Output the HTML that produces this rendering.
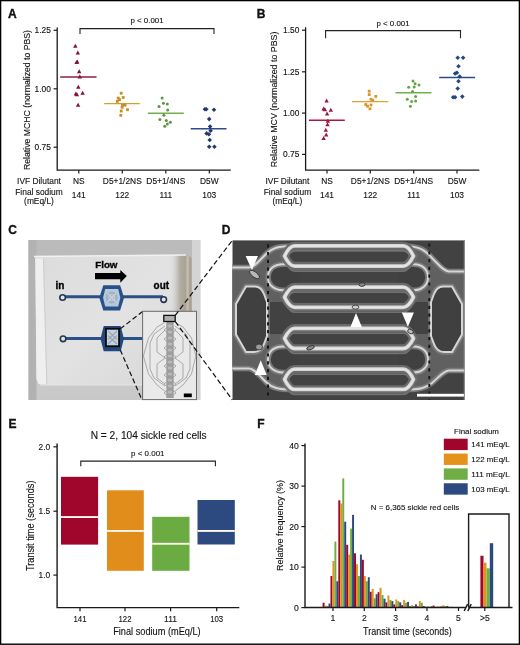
<!DOCTYPE html>
<html><head><meta charset="utf-8"><title>Figure</title>
<style>
html,body{margin:0;padding:0;background:#fff;}
body{width:520px;height:645px;overflow:hidden;}
svg{display:block;font-family:"Liberation Sans", sans-serif;will-change:transform;}
text{stroke:#111;stroke-width:0.12px;paint-order:stroke;}
text[font-weight=bold]{stroke-width:0.35px;}
</style></head><body>
<svg width="520" height="645" viewBox="0 0 520 645">
<rect x="0" y="0" width="520" height="645" fill="#fff"/>
<text x="8" y="17.8" font-size="12" text-anchor="start" font-weight="bold" fill="#111" >A</text>
<path d="M57.2,27.400000000000002V170.2H230.8" fill="none" stroke="#1a1a1a" stroke-width="1.3"/>
<path d="M53.6,30.3H57.2" stroke="#1a1a1a" stroke-width="1.2"/>
<text x="50.900000000000006" y="33.3" font-size="8.4" text-anchor="end" font-weight="normal" fill="#111" >1.25</text>
<path d="M53.6,88.8H57.2" stroke="#1a1a1a" stroke-width="1.2"/>
<text x="50.900000000000006" y="91.8" font-size="8.4" text-anchor="end" font-weight="normal" fill="#111" >1.00</text>
<path d="M53.6,147.2H57.2" stroke="#1a1a1a" stroke-width="1.2"/>
<text x="50.900000000000006" y="150.2" font-size="8.4" text-anchor="end" font-weight="normal" fill="#111" >0.75</text>
<path d="M78.8,170.2V173.6" stroke="#1a1a1a" stroke-width="1.2"/>
<path d="M122.3,170.2V173.6" stroke="#1a1a1a" stroke-width="1.2"/>
<path d="M165.8,170.2V173.6" stroke="#1a1a1a" stroke-width="1.2"/>
<path d="M209.3,170.2V173.6" stroke="#1a1a1a" stroke-width="1.2"/>
<text transform="translate(30.2,100) rotate(-90)" x="0" y="0" font-size="8.7" text-anchor="middle" fill="#111">Relative MCHC (normalized to PBS)</text>
<path d="M80,34V28.6H214V34" fill="none" stroke="#222" stroke-width="1.1"/>
<text x="147.0" y="23.4" font-size="7.9" text-anchor="middle" font-weight="normal" fill="#111" >p &lt; 0.001</text>
<text x="78.8" y="184.3" font-size="8.4" text-anchor="middle" font-weight="normal" fill="#111" >NS</text>
<text x="78.8" y="197.9" font-size="8.4" text-anchor="middle" font-weight="normal" fill="#111" >141</text>
<text x="122.3" y="184.3" font-size="8.4" text-anchor="middle" font-weight="normal" fill="#111" >D5+1/2NS</text>
<text x="122.3" y="197.9" font-size="8.4" text-anchor="middle" font-weight="normal" fill="#111" >122</text>
<text x="165.8" y="184.3" font-size="8.4" text-anchor="middle" font-weight="normal" fill="#111" >D5+1/4NS</text>
<text x="165.8" y="197.9" font-size="8.4" text-anchor="middle" font-weight="normal" fill="#111" >111</text>
<text x="209.3" y="184.3" font-size="8.4" text-anchor="middle" font-weight="normal" fill="#111" >D5W</text>
<text x="209.3" y="197.9" font-size="8.4" text-anchor="middle" font-weight="normal" fill="#111" >103</text>
<text x="39" y="184.3" font-size="8.4" text-anchor="middle" font-weight="normal" fill="#111" >IVF Dilutant</text>
<text x="39" y="194.6" font-size="8.4" text-anchor="middle" font-weight="normal" fill="#111" >Final sodium</text>
<text x="39" y="204.2" font-size="8.4" text-anchor="middle" font-weight="normal" fill="#111" >(mEq/L)</text>
<path d="M60.2,76.9H96.5" stroke="#931a40" stroke-width="1.45"/>
<path d="M73.10,47.78L77.50,47.78L75.30,43.82Z" fill="#801232"/>
<path d="M75.60,54.48L80.00,54.48L77.80,50.52Z" fill="#801232"/>
<path d="M75.00,63.48L79.40,63.48L77.20,59.52Z" fill="#801232"/>
<path d="M74.40,63.98L78.80,63.98L76.60,60.02Z" fill="#801232"/>
<path d="M77.00,73.18L81.40,73.18L79.20,69.22Z" fill="#801232"/>
<path d="M77.60,78.48L82.00,78.48L79.80,74.52Z" fill="#801232"/>
<path d="M76.10,88.78L80.50,88.78L78.30,84.82Z" fill="#801232"/>
<path d="M73.70,95.48L78.10,95.48L75.90,91.52Z" fill="#801232"/>
<path d="M74.70,96.18L79.10,96.18L76.90,92.22Z" fill="#801232"/>
<path d="M80.40,94.68L84.80,94.68L82.60,90.72Z" fill="#801232"/>
<path d="M75.90,106.78L80.30,106.78L78.10,102.82Z" fill="#801232"/>
<path d="M104.2,103.6H139.8" stroke="#d1a028" stroke-width="1.45"/>
<rect x="119.80" y="91.80" width="2.8" height="2.8" fill="#c88c22"/>
<rect x="121.80" y="96.10" width="2.8" height="2.8" fill="#c88c22"/>
<rect x="116.80" y="96.70" width="2.8" height="2.8" fill="#c88c22"/>
<rect x="118.10" y="98.30" width="2.8" height="2.8" fill="#c88c22"/>
<rect x="115.90" y="100.00" width="2.8" height="2.8" fill="#c88c22"/>
<rect x="121.10" y="103.90" width="2.8" height="2.8" fill="#c88c22"/>
<rect x="123.70" y="103.70" width="2.8" height="2.8" fill="#c88c22"/>
<rect x="120.70" y="105.90" width="2.8" height="2.8" fill="#c88c22"/>
<rect x="126.10" y="108.30" width="2.8" height="2.8" fill="#c88c22"/>
<rect x="119.80" y="109.60" width="2.8" height="2.8" fill="#c88c22"/>
<rect x="119.40" y="113.90" width="2.8" height="2.8" fill="#c88c22"/>
<path d="M147.8,113.2H183.8" stroke="#70b04a" stroke-width="1.45"/>
<circle cx="162.1" cy="98" r="1.5" fill="#5e9640"/>
<circle cx="163.4" cy="103.2" r="1.5" fill="#5e9640"/>
<circle cx="167.3" cy="104" r="1.5" fill="#5e9640"/>
<circle cx="159" cy="106.6" r="1.5" fill="#5e9640"/>
<circle cx="167.7" cy="110.1" r="1.5" fill="#5e9640"/>
<circle cx="163.9" cy="115.3" r="1.5" fill="#5e9640"/>
<circle cx="159.9" cy="119.6" r="1.5" fill="#5e9640"/>
<circle cx="166.3" cy="120.5" r="1.5" fill="#5e9640"/>
<circle cx="170.3" cy="122.2" r="1.5" fill="#5e9640"/>
<circle cx="167.3" cy="123.9" r="1.5" fill="#5e9640"/>
<circle cx="164.7" cy="126.2" r="1.5" fill="#5e9640"/>
<path d="M190.7,128.8H226.5" stroke="#2d4c84" stroke-width="1.45"/>
<path d="M204.90,106.90L207.20,109.20L204.90,111.50L202.60,109.20Z" fill="#203a6c"/>
<path d="M206.30,106.90L208.60,109.20L206.30,111.50L204.00,109.20Z" fill="#203a6c"/>
<path d="M214.00,107.40L216.30,109.70L214.00,112.00L211.70,109.70Z" fill="#203a6c"/>
<path d="M209.20,116.80L211.50,119.10L209.20,121.40L206.90,119.10Z" fill="#203a6c"/>
<path d="M210.10,124.20L212.40,126.50L210.10,128.80L207.80,126.50Z" fill="#203a6c"/>
<path d="M210.60,128.50L212.90,130.80L210.60,133.10L208.30,130.80Z" fill="#203a6c"/>
<path d="M206.60,131.10L208.90,133.40L206.60,135.70L204.30,133.40Z" fill="#203a6c"/>
<path d="M208.90,132.00L211.20,134.30L208.90,136.60L206.60,134.30Z" fill="#203a6c"/>
<path d="M209.70,137.70L212.00,140.00L209.70,142.30L207.40,140.00Z" fill="#203a6c"/>
<path d="M209.20,144.50L211.50,146.80L209.20,149.10L206.90,146.80Z" fill="#203a6c"/>
<path d="M214.40,144.50L216.70,146.80L214.40,149.10L212.10,146.80Z" fill="#203a6c"/>
<text x="256.8" y="17.8" font-size="12" text-anchor="start" font-weight="bold" fill="#111" >B</text>
<path d="M305.6,27.3V170.2H479.3" fill="none" stroke="#1a1a1a" stroke-width="1.3"/>
<path d="M302.0,30.2H305.6" stroke="#1a1a1a" stroke-width="1.2"/>
<text x="299.3" y="33.2" font-size="8.4" text-anchor="end" font-weight="normal" fill="#111" >1.50</text>
<path d="M302.0,71.8H305.6" stroke="#1a1a1a" stroke-width="1.2"/>
<text x="299.3" y="74.8" font-size="8.4" text-anchor="end" font-weight="normal" fill="#111" >1.25</text>
<path d="M302.0,113.1H305.6" stroke="#1a1a1a" stroke-width="1.2"/>
<text x="299.3" y="116.1" font-size="8.4" text-anchor="end" font-weight="normal" fill="#111" >1.00</text>
<path d="M302.0,154.4H305.6" stroke="#1a1a1a" stroke-width="1.2"/>
<text x="299.3" y="157.4" font-size="8.4" text-anchor="end" font-weight="normal" fill="#111" >0.75</text>
<path d="M327,170.2V173.6" stroke="#1a1a1a" stroke-width="1.2"/>
<path d="M370.3,170.2V173.6" stroke="#1a1a1a" stroke-width="1.2"/>
<path d="M413.7,170.2V173.6" stroke="#1a1a1a" stroke-width="1.2"/>
<path d="M457,170.2V173.6" stroke="#1a1a1a" stroke-width="1.2"/>
<text transform="translate(276.6,99.4) rotate(-90)" x="0" y="0" font-size="8.85" text-anchor="middle" fill="#111">Relative MCV (normalized to PBS)</text>
<path d="M325.6,38.3V30.6H460.5V38.3" fill="none" stroke="#222" stroke-width="1.1"/>
<text x="393.05" y="25.6" font-size="7.9" text-anchor="middle" font-weight="normal" fill="#111" >p &lt; 0.001</text>
<text x="327" y="184.3" font-size="8.4" text-anchor="middle" font-weight="normal" fill="#111" >NS</text>
<text x="327" y="197.9" font-size="8.4" text-anchor="middle" font-weight="normal" fill="#111" >141</text>
<text x="370.3" y="184.3" font-size="8.4" text-anchor="middle" font-weight="normal" fill="#111" >D5+1/2NS</text>
<text x="370.3" y="197.9" font-size="8.4" text-anchor="middle" font-weight="normal" fill="#111" >122</text>
<text x="413.7" y="184.3" font-size="8.4" text-anchor="middle" font-weight="normal" fill="#111" >D5+1/4NS</text>
<text x="413.7" y="197.9" font-size="8.4" text-anchor="middle" font-weight="normal" fill="#111" >111</text>
<text x="457" y="184.3" font-size="8.4" text-anchor="middle" font-weight="normal" fill="#111" >D5W</text>
<text x="457" y="197.9" font-size="8.4" text-anchor="middle" font-weight="normal" fill="#111" >103</text>
<text x="287.4" y="184.3" font-size="8.4" text-anchor="middle" font-weight="normal" fill="#111" >IVF Dilutant</text>
<text x="287.4" y="194.6" font-size="8.4" text-anchor="middle" font-weight="normal" fill="#111" >Final sodium</text>
<text x="287.4" y="204.2" font-size="8.4" text-anchor="middle" font-weight="normal" fill="#111" >(mEq/L)</text>
<path d="M308.9,120.3H344.8" stroke="#a81a3e" stroke-width="1.45"/>
<path d="M324.40,102.38L328.80,102.38L326.60,98.42Z" fill="#981840"/>
<path d="M321.40,110.58L325.80,110.58L323.60,106.62Z" fill="#981840"/>
<path d="M322.70,111.18L327.10,111.18L324.90,107.22Z" fill="#981840"/>
<path d="M328.60,111.68L333.00,111.68L330.80,107.72Z" fill="#981840"/>
<path d="M324.90,115.48L329.30,115.48L327.10,111.52Z" fill="#981840"/>
<path d="M325.70,122.68L330.10,122.68L327.90,118.72Z" fill="#981840"/>
<path d="M325.30,126.18L329.70,126.18L327.50,122.22Z" fill="#981840"/>
<path d="M323.60,131.78L328.00,131.78L325.80,127.82Z" fill="#981840"/>
<path d="M324.00,136.48L328.40,136.48L326.20,132.52Z" fill="#981840"/>
<path d="M321.40,139.98L325.80,139.98L323.60,136.02Z" fill="#981840"/>
<path d="M351.9,101.6H388.3" stroke="#dca232" stroke-width="1.45"/>
<rect x="367.80" y="89.80" width="2.8" height="2.8" fill="#d8952a"/>
<rect x="367.80" y="93.20" width="2.8" height="2.8" fill="#d8952a"/>
<rect x="374.40" y="95.00" width="2.8" height="2.8" fill="#d8952a"/>
<rect x="369.60" y="97.90" width="2.8" height="2.8" fill="#d8952a"/>
<rect x="371.30" y="98.80" width="2.8" height="2.8" fill="#d8952a"/>
<rect x="364.40" y="103.10" width="2.8" height="2.8" fill="#d8952a"/>
<rect x="369.60" y="103.60" width="2.8" height="2.8" fill="#d8952a"/>
<rect x="366.10" y="104.80" width="2.8" height="2.8" fill="#d8952a"/>
<rect x="368.60" y="107.40" width="2.8" height="2.8" fill="#d8952a"/>
<path d="M395.5,92.7H431.5" stroke="#74b04c" stroke-width="1.45"/>
<circle cx="413" cy="81.1" r="1.5" fill="#64a444"/>
<circle cx="415.1" cy="83.7" r="1.5" fill="#64a444"/>
<circle cx="419" cy="85.1" r="1.5" fill="#64a444"/>
<circle cx="414.2" cy="86.9" r="1.5" fill="#64a444"/>
<circle cx="408.7" cy="87.2" r="1.5" fill="#64a444"/>
<circle cx="412.5" cy="91.5" r="1.5" fill="#64a444"/>
<circle cx="415.6" cy="96.4" r="1.5" fill="#64a444"/>
<circle cx="407.3" cy="99.3" r="1.5" fill="#64a444"/>
<circle cx="411.6" cy="101.6" r="1.5" fill="#64a444"/>
<circle cx="415.6" cy="101" r="1.5" fill="#64a444"/>
<circle cx="410.4" cy="106.2" r="1.5" fill="#64a444"/>
<path d="M439.2,77.4H475.1" stroke="#2d4e8a" stroke-width="1.45"/>
<path d="M457.70,55.40L460.00,57.70L457.70,60.00L455.40,57.70Z" fill="#25467e"/>
<path d="M463.10,55.40L465.40,57.70L463.10,60.00L460.80,57.70Z" fill="#25467e"/>
<path d="M458.50,63.90L460.80,66.20L458.50,68.50L456.20,66.20Z" fill="#25467e"/>
<path d="M455.10,71.20L457.40,73.50L455.10,75.80L452.80,73.50Z" fill="#25467e"/>
<path d="M456.90,70.50L459.20,72.80L456.90,75.10L454.60,72.80Z" fill="#25467e"/>
<path d="M459.70,74.20L462.00,76.50L459.70,78.80L457.40,76.50Z" fill="#25467e"/>
<path d="M458.50,78.90L460.80,81.20L458.50,83.50L456.20,81.20Z" fill="#25467e"/>
<path d="M457.70,86.20L460.00,88.50L457.70,90.80L455.40,88.50Z" fill="#25467e"/>
<path d="M453.10,94.90L455.40,97.20L453.10,99.50L450.80,97.20Z" fill="#25467e"/>
<path d="M455.10,94.90L457.40,97.20L455.10,99.50L452.80,97.20Z" fill="#25467e"/>
<path d="M462.30,94.30L464.60,96.60L462.30,98.90L460.00,96.60Z" fill="#25467e"/>
<text x="8.2" y="233.8" font-size="12" text-anchor="start" font-weight="bold" fill="#111" >C</text>
<defs><linearGradient id="cbg" x1="0" y1="0" x2="0" y2="1"><stop offset="0" stop-color="#bababa"/><stop offset="0.9" stop-color="#cacaca"/><stop offset="1" stop-color="#c8c8c8"/></linearGradient><linearGradient id="chip" x1="0" y1="0" x2="1" y2="1"><stop offset="0" stop-color="#dcdcdc"/><stop offset="0.5" stop-color="#e2e2e2"/><stop offset="1" stop-color="#d6d6d6"/></linearGradient><linearGradient id="beige" x1="0" y1="0" x2="1" y2="0"><stop offset="0" stop-color="#d6d6d6" stop-opacity="0"/><stop offset="0.45" stop-color="#b2ada2"/><stop offset="0.7" stop-color="#a9a294"/><stop offset="0.8" stop-color="#c6c0b3"/><stop offset="0.92" stop-color="#a49d8f"/><stop offset="1" stop-color="#b8b2a6"/></linearGradient></defs>
<rect x="28.5" y="240" width="171.8" height="160" fill="url(#cbg)"/>
<rect x="28.5" y="240" width="8" height="160" fill="#b2b2b2"/>
<rect x="192" y="240" width="8.3" height="160" fill="#d4d4d4"/>
<path d="M35,257L186,255L191.5,258V384.5L46,384.5L36.5,379Z" fill="url(#chip)"/>
<path d="M170,255.3L187,254.5L192,258V320H170Z" fill="url(#beige)"/>
<path d="M35.5,258.5L43,258.5L46.5,384H38.5L36.5,379Z" fill="#efefef"/><path d="M43.5,259L46.8,384" stroke="#c9c9c9" stroke-width="0.9"/>
<path d="M34,256.5L186,255" stroke="#f2f2f2" stroke-width="1.5"/>
<path d="M40,384.8H191" stroke="#e6e6e6" stroke-width="1.3"/>
<path d="M95,273H120.3V270L126.8,276.1L120.3,282.7V279.2H95Z" fill="#000"/>
<text x="95.2" y="268.2" font-size="9.8" font-weight="bold" fill="#000" textLength="22.3" lengthAdjust="spacingAndGlyphs">Flow</text>
<text x="55.6" y="289" font-size="10" font-weight="bold" fill="#000">in</text>
<text x="153.6" y="289.4" font-size="10" font-weight="bold" fill="#000" textLength="15.4" lengthAdjust="spacingAndGlyphs">out</text>
<path d="M63,296.8H163" stroke="#2a5088" stroke-width="3"/>
<path d="M63.5,338.6H142.6" stroke="#2a5088" stroke-width="3"/>
<polygon points="99.3,297.79999999999995 103.3,285.2 120.1,285.2 124.1,297.79999999999995 120.1,310.4 103.3,310.4" fill="#2a5088"/>
<polygon points="103.1,297.79999999999995 105.2,289.0 118.19999999999999,289.0 120.3,297.79999999999995 118.19999999999999,306.59999999999997 105.2,306.59999999999997" fill="#b4c8de"/>
<circle cx="111.7" cy="297.6" r="6" fill="#a3b2c2"/>
<path d="M107.5,293.4L115.9,301.8M107.5,301.8L115.9,293.4" stroke="#c9d4df" stroke-width="1.3"/>
<circle cx="111.7" cy="297.6" r="3" fill="none" stroke="#c9d4df" stroke-width="1"/>
<polygon points="100.5,338.70000000000005 103.7,326.1 120.7,326.1 123.9,338.70000000000005 120.7,351.3 103.7,351.3" fill="#22487e"/>
<rect x="106.6" y="329.4" width="11.8" height="16.2" fill="#c6d1dc"/>
<path d="M108,331L117,339.5M108,339.5L117,331M108,335.5L117,344M108,344L117,335.5" stroke="#97a6b6" stroke-width="1.2"/>
<rect x="105.9" y="328.7" width="13.2" height="17.6" fill="none" stroke="#0a0a0a" stroke-width="1.7"/>
<circle cx="62.6" cy="297.5" r="2.8" fill="#dfe5ea" stroke="#26364d" stroke-width="1.6"/>
<circle cx="163.7" cy="299.6" r="2.8" fill="#dfe5ea" stroke="#26364d" stroke-width="1.6"/>
<circle cx="63.1" cy="338.8" r="2.8" fill="#dfe5ea" stroke="#26364d" stroke-width="1.6"/>
<path d="M120.3,328.9L142.6,311.5M120.3,350L141.6,399" stroke="#111" stroke-width="1.2" stroke-dasharray="5,2.8" fill="none"/>
<rect x="142.6" y="311.3" width="53.9" height="88.3" fill="#e9e9e9" stroke="#6a6a6a" stroke-width="1"/>
<g fill="none" stroke="#a9a9a9" stroke-width="1.0"><polyline points="164,323 157,327 148.5,338 143.4,356 148.5,374 157,385 166,392"/><polyline points="176,323 183,327 191.5,338 195.8,356 191.5,374 183,385 174,392"/><polyline points="165,326 154,334 150,343 150,356 150,369 154,378 165,386"/><polyline points="175,326 186,334 190,343 190,356 190,369 186,378 175,386"/><polyline points="165,330 157,338 157,352 165,358 157,364 157,378 165,384"/><polyline points="175,330 183,338 183,352 175,358 183,364 183,378 175,384"/></g>
<g fill="none" stroke="#a0a0a0" stroke-width="0.9">
<path d="M170,325L176,330L170,335L164,330Z"/>
<path d="M170,334L176,339L170,344L164,339Z"/>
<path d="M170,343L176,348L170,353L164,348Z"/>
<path d="M170,352L176,357L170,362L164,357Z"/>
<path d="M170,361L176,366L170,371L164,366Z"/>
<path d="M170,370L176,375L170,380L164,375Z"/>
<path d="M170,379L176,384L170,389L164,384Z"/>
<path d="M170,388L176,393L170,398L164,393Z"/>
</g>
<rect x="166.3" y="322" width="7.4" height="76" fill="#9d9d9d"/>
<g fill="#b9b9b9">
<ellipse cx="170" cy="326" rx="2.4" ry="1.5"/>
<ellipse cx="170" cy="332" rx="2.4" ry="1.5"/>
<ellipse cx="170" cy="338" rx="2.4" ry="1.5"/>
<ellipse cx="170" cy="344" rx="2.4" ry="1.5"/>
<ellipse cx="170" cy="350" rx="2.4" ry="1.5"/>
<ellipse cx="170" cy="356" rx="2.4" ry="1.5"/>
<ellipse cx="170" cy="362" rx="2.4" ry="1.5"/>
<ellipse cx="170" cy="368" rx="2.4" ry="1.5"/>
<ellipse cx="170" cy="374" rx="2.4" ry="1.5"/>
<ellipse cx="170" cy="380" rx="2.4" ry="1.5"/>
<ellipse cx="170" cy="386" rx="2.4" ry="1.5"/>
<ellipse cx="170" cy="392" rx="2.4" ry="1.5"/>
</g>
<rect x="163.8" y="315.4" width="11.4" height="6.1" fill="#b0b0b0" stroke="#111" stroke-width="1.3"/>
<rect x="183.8" y="393.5" width="8" height="3.7" fill="#000"/>
<path d="M175.2,315.4L232.3,240.4M175.2,321.5L232.3,399.8" stroke="#111" stroke-width="1.2" stroke-dasharray="5.2,2.8" fill="none"/>
<text x="221.8" y="233.6" font-size="12" text-anchor="start" font-weight="bold" fill="#111" >D</text>
<clipPath id="dclip"><rect x="232.3" y="240.2" width="232.7" height="159.8"/></clipPath>
<filter id="dblur" x="-5%" y="-5%" width="110%" height="110%"><feGaussianBlur stdDeviation="0.6"/></filter>
<g clip-path="url(#dclip)">
<rect x="232.3" y="240.2" width="232.7" height="159.8" fill="#424242"/>
<g filter="url(#dblur)">
<path d="M232,267.5H249C254,267.5 258,262 266,254C272,248 278,245.9 290,245.9V302H268V334H290V390C278,389.6 272,388 266,382C258,374 254,368.5 249,368.5H232Z" fill="#616161"/>
<path d="M465,271.5H449C444,271.5 440,266 432,258C426,251 420,245.9 408,245.9V302H431V334H408V390C420,389.6 426,388 432,383C440,376 444,370.5 449,370.5H465Z" fill="#616161"/>
<path d="M232,267.5H249C254,267.5 258,262 266,254C272,248 278,245.9 294,245.9" fill="none" stroke="#7a7a7a" stroke-width="5.5" stroke-linejoin="round" stroke-linecap="round" />
<path d="M232,267.5H249C254,267.5 258,262 266,254C272,248 278,245.9 294,245.9" fill="none" stroke="#d6d6d6" stroke-width="2.0" stroke-linejoin="round" stroke-linecap="round" />
<path d="M232,368.5H249C254,368.5 258,374 266,382C272,388 278,389.6 294,389.6" fill="none" stroke="#7a7a7a" stroke-width="5.5" stroke-linejoin="round" stroke-linecap="round" />
<path d="M232,368.5H249C254,368.5 258,374 266,382C272,388 278,389.6 294,389.6" fill="none" stroke="#d6d6d6" stroke-width="2.0" stroke-linejoin="round" stroke-linecap="round" />
<path d="M465,271.5H449C444,271.5 440,266 432,258C426,251 420,245.9 404,245.9" fill="none" stroke="#7a7a7a" stroke-width="5.5" stroke-linejoin="round" stroke-linecap="round" />
<path d="M465,271.5H449C444,271.5 440,266 432,258C426,251 420,245.9 404,245.9" fill="none" stroke="#d6d6d6" stroke-width="2.0" stroke-linejoin="round" stroke-linecap="round" />
<path d="M465,370.5H449C444,370.5 440,376 432,383C426,388 420,389.6 404,389.6" fill="none" stroke="#7a7a7a" stroke-width="5.5" stroke-linejoin="round" stroke-linecap="round" />
<path d="M465,370.5H449C444,370.5 440,376 432,383C426,388 420,389.6 404,389.6" fill="none" stroke="#d6d6d6" stroke-width="2.0" stroke-linejoin="round" stroke-linecap="round" />
<path d="M300,264.2H283C273,264.2 268,270.2 268,277.2C268,284.2 273,290.2 283,290.2H300Z" fill="#404040"/>
<path d="M300,264.2H283C273,264.2 268,270.2 268,277.2C268,284.2 273,290.2 283,290.2H300" fill="none" stroke="#7a7a7a" stroke-width="5.5" stroke-linejoin="round" stroke-linecap="round" />
<path d="M300,264.2H283C273,264.2 268,270.2 268,277.2C268,284.2 273,290.2 283,290.2H300" fill="none" stroke="#d6d6d6" stroke-width="2.0" stroke-linejoin="round" stroke-linecap="round" />
<path d="M398,264.2H414C423,264.2 428,270.2 428,277.2C428,284.2 423,290.2 414,290.2H398Z" fill="#404040"/>
<path d="M398,264.2H414C423,264.2 428,270.2 428,277.2C428,284.2 423,290.2 414,290.2H398" fill="none" stroke="#7a7a7a" stroke-width="5.5" stroke-linejoin="round" stroke-linecap="round" />
<path d="M398,264.2H414C423,264.2 428,270.2 428,277.2C428,284.2 423,290.2 414,290.2H398" fill="none" stroke="#d6d6d6" stroke-width="2.0" stroke-linejoin="round" stroke-linecap="round" />
<path d="M300,346.4H283C273,346.4 268,352.4 268,359.4C268,366.4 273,372.4 283,372.4H300Z" fill="#404040"/>
<path d="M300,346.4H283C273,346.4 268,352.4 268,359.4C268,366.4 273,372.4 283,372.4H300" fill="none" stroke="#7a7a7a" stroke-width="5.5" stroke-linejoin="round" stroke-linecap="round" />
<path d="M300,346.4H283C273,346.4 268,352.4 268,359.4C268,366.4 273,372.4 283,372.4H300" fill="none" stroke="#d6d6d6" stroke-width="2.0" stroke-linejoin="round" stroke-linecap="round" />
<path d="M398,346.4H414C423,346.4 428,352.4 428,359.4C428,366.4 423,372.4 414,372.4H398Z" fill="#404040"/>
<path d="M398,346.4H414C423,346.4 428,352.4 428,359.4C428,366.4 423,372.4 414,372.4H398" fill="none" stroke="#7a7a7a" stroke-width="5.5" stroke-linejoin="round" stroke-linecap="round" />
<path d="M398,346.4H414C423,346.4 428,352.4 428,359.4C428,366.4 423,372.4 414,372.4H398" fill="none" stroke="#d6d6d6" stroke-width="2.0" stroke-linejoin="round" stroke-linecap="round" />
<path d="M246,286.5H255C259,286.5 262,289 264,294L267,302V336L264,344C262,349 258,352 254,352H246L236,334.5V304Z" fill="none" stroke="#7a7a7a" stroke-width="5.5" stroke-linejoin="round" stroke-linecap="round" />
<path d="M246,286.5H255C259,286.5 262,289 264,294L267,302V336L264,344C262,349 258,352 254,352H246L236,334.5V304Z" fill="#404040" stroke="#d6d6d6" stroke-width="2.0" stroke-linejoin="round" stroke-linecap="round" />
<path d="M452,286.5H443C439,286.5 436,289 434,294L431,302V336L434,344C436,349 440,352 444,352H452L462,334.5V304Z" fill="none" stroke="#7a7a7a" stroke-width="5.5" stroke-linejoin="round" stroke-linecap="round" />
<path d="M452,286.5H443C439,286.5 436,289 434,294L431,302V336L434,344C436,349 440,352 444,352H452L462,334.5V304Z" fill="#404040" stroke="#d6d6d6" stroke-width="2.0" stroke-linejoin="round" stroke-linecap="round" />
<path d="M294.5,245.9H403.5C407.5,245.9 411.5,252.0 413.5,256.0C411.5,260.0 407.5,266.1 403.5,266.1H294.5C290.5,266.1 286.5,260.0 284.5,256.0C286.5,252.0 290.5,245.9 294.5,245.9Z" fill="#424242" stroke="#6a6a6a" stroke-width="8.5" stroke-linejoin="round"/>
<path d="M294.5,245.9H403.5C407.5,245.9 411.5,252.0 413.5,256.0C411.5,260.0 407.5,266.1 403.5,266.1H294.5C290.5,266.1 286.5,260.0 284.5,256.0C286.5,252.0 290.5,245.9 294.5,245.9Z" fill="none" stroke="#727272" stroke-width="1.6" transform="translate(0,5)"/>
<path d="M294.5,245.9H403.5C407.5,245.9 411.5,252.0 413.5,256.0C411.5,260.0 407.5,266.1 403.5,266.1H294.5C290.5,266.1 286.5,260.0 284.5,256.0C286.5,252.0 290.5,245.9 294.5,245.9Z" fill="none" stroke="#d4d4d4" stroke-width="3.8" stroke-linejoin="round"/>
<path d="M294.5,245.9H403.5C407.5,245.9 411.5,252.0 413.5,256.0C411.5,260.0 407.5,266.1 403.5,266.1H294.5C290.5,266.1 286.5,260.0 284.5,256.0C286.5,252.0 290.5,245.9 294.5,245.9Z" fill="none" stroke="#e6e6e6" stroke-width="1.6" stroke-linejoin="round"/>
<path d="M294.5,287.1H403.5C407.5,287.1 411.5,293.2 413.5,297.2C411.5,301.2 407.5,307.3 403.5,307.3H294.5C290.5,307.3 286.5,301.2 284.5,297.2C286.5,293.2 290.5,287.1 294.5,287.1Z" fill="#424242" stroke="#6a6a6a" stroke-width="8.5" stroke-linejoin="round"/>
<path d="M294.5,287.1H403.5C407.5,287.1 411.5,293.2 413.5,297.2C411.5,301.2 407.5,307.3 403.5,307.3H294.5C290.5,307.3 286.5,301.2 284.5,297.2C286.5,293.2 290.5,287.1 294.5,287.1Z" fill="none" stroke="#727272" stroke-width="1.6" transform="translate(0,5)"/>
<path d="M294.5,287.1H403.5C407.5,287.1 411.5,293.2 413.5,297.2C411.5,301.2 407.5,307.3 403.5,307.3H294.5C290.5,307.3 286.5,301.2 284.5,297.2C286.5,293.2 290.5,287.1 294.5,287.1Z" fill="none" stroke="#d4d4d4" stroke-width="3.8" stroke-linejoin="round"/>
<path d="M294.5,287.1H403.5C407.5,287.1 411.5,293.2 413.5,297.2C411.5,301.2 407.5,307.3 403.5,307.3H294.5C290.5,307.3 286.5,301.2 284.5,297.2C286.5,293.2 290.5,287.1 294.5,287.1Z" fill="none" stroke="#e6e6e6" stroke-width="1.6" stroke-linejoin="round"/>
<path d="M294.5,328.3H403.5C407.5,328.3 411.5,334.4 413.5,338.4C411.5,342.4 407.5,348.5 403.5,348.5H294.5C290.5,348.5 286.5,342.4 284.5,338.4C286.5,334.4 290.5,328.3 294.5,328.3Z" fill="#424242" stroke="#6a6a6a" stroke-width="8.5" stroke-linejoin="round"/>
<path d="M294.5,328.3H403.5C407.5,328.3 411.5,334.4 413.5,338.4C411.5,342.4 407.5,348.5 403.5,348.5H294.5C290.5,348.5 286.5,342.4 284.5,338.4C286.5,334.4 290.5,328.3 294.5,328.3Z" fill="none" stroke="#727272" stroke-width="1.6" transform="translate(0,5)"/>
<path d="M294.5,328.3H403.5C407.5,328.3 411.5,334.4 413.5,338.4C411.5,342.4 407.5,348.5 403.5,348.5H294.5C290.5,348.5 286.5,342.4 284.5,338.4C286.5,334.4 290.5,328.3 294.5,328.3Z" fill="none" stroke="#d4d4d4" stroke-width="3.8" stroke-linejoin="round"/>
<path d="M294.5,328.3H403.5C407.5,328.3 411.5,334.4 413.5,338.4C411.5,342.4 407.5,348.5 403.5,348.5H294.5C290.5,348.5 286.5,342.4 284.5,338.4C286.5,334.4 290.5,328.3 294.5,328.3Z" fill="none" stroke="#e6e6e6" stroke-width="1.6" stroke-linejoin="round"/>
<path d="M294.5,369.2H403.5C407.5,369.2 411.5,375.3 413.5,379.3C411.5,383.3 407.5,389.4 403.5,389.4H294.5C290.5,389.4 286.5,383.3 284.5,379.3C286.5,375.3 290.5,369.2 294.5,369.2Z" fill="#424242" stroke="#6a6a6a" stroke-width="8.5" stroke-linejoin="round"/>
<path d="M294.5,369.2H403.5C407.5,369.2 411.5,375.3 413.5,379.3C411.5,383.3 407.5,389.4 403.5,389.4H294.5C290.5,389.4 286.5,383.3 284.5,379.3C286.5,375.3 290.5,369.2 294.5,369.2Z" fill="none" stroke="#727272" stroke-width="1.6" transform="translate(0,5)"/>
<path d="M294.5,369.2H403.5C407.5,369.2 411.5,375.3 413.5,379.3C411.5,383.3 407.5,389.4 403.5,389.4H294.5C290.5,389.4 286.5,383.3 284.5,379.3C286.5,375.3 290.5,369.2 294.5,369.2Z" fill="none" stroke="#d4d4d4" stroke-width="3.8" stroke-linejoin="round"/>
<path d="M294.5,369.2H403.5C407.5,369.2 411.5,375.3 413.5,379.3C411.5,383.3 407.5,389.4 403.5,389.4H294.5C290.5,389.4 286.5,383.3 284.5,379.3C286.5,375.3 290.5,369.2 294.5,369.2Z" fill="none" stroke="#e6e6e6" stroke-width="1.6" stroke-linejoin="round"/>
</g>
<g stroke="#2a2a2a" stroke-width="0.8"><ellipse cx="254.5" cy="274.5" rx="6" ry="2.6" transform="rotate(38 254.5 274.5)" fill="#b8b8b8"/><ellipse cx="362" cy="284.6" rx="3" ry="1.8" fill="#8a8a8a"/><ellipse cx="355.5" cy="307.2" rx="3.4" ry="2" fill="#d0d0d0"/><ellipse cx="310.5" cy="347.8" rx="4" ry="1.8" transform="rotate(-20 310.5 347.8)" fill="#8c8c8c"/><ellipse cx="259" cy="347" rx="3.5" ry="3" fill="#9a9a9a"/><ellipse cx="410.5" cy="331.5" rx="3" ry="2" transform="rotate(30 410.5 331.5)" fill="#bdbdbd"/></g>
<path d="M268,244.2V400M429.3,243.4V400" stroke="#151515" stroke-width="1.9" stroke-dasharray="3.2,4.6"/>
<g fill="#fff"><polygon points="245.6,256 258,256 252,270"/><polygon points="260.7,360.3 266.7,375 254.8,375"/><polygon points="356,313 362,327.3 350.4,327.3"/><polygon points="401.8,312.5 413.9,312.5 407.9,326.8"/></g>
<rect x="417" y="393.8" width="47.3" height="2.8" fill="#fff"/>
<path d="M464.3,240V400" stroke="#9a9a9a" stroke-width="1"/>
</g>
<text x="8.5" y="428.2" font-size="12" text-anchor="start" font-weight="bold" fill="#111" >E</text>
<text x="148.7" y="438.9" font-size="10.2" text-anchor="middle" fill="#111" textLength="116" lengthAdjust="spacingAndGlyphs">N = 2, 104 sickle red cells</text>
<path d="M57.1,443.5V607.6H239.3" fill="none" stroke="#1a1a1a" stroke-width="1.4"/>
<path d="M53.4,446.8H57" stroke="#1a1a1a" stroke-width="1.2"/>
<text x="50.2" y="449.90000000000003" font-size="8.6" text-anchor="end" fill="#111" textLength="11.6" lengthAdjust="spacingAndGlyphs">2.0</text>
<path d="M53.4,511.2H57" stroke="#1a1a1a" stroke-width="1.2"/>
<text x="50.2" y="514.3" font-size="8.6" text-anchor="end" fill="#111" textLength="11.6" lengthAdjust="spacingAndGlyphs">1.5</text>
<path d="M53.4,575.1H57" stroke="#1a1a1a" stroke-width="1.2"/>
<text x="50.2" y="578.2" font-size="8.6" text-anchor="end" fill="#111" textLength="11.6" lengthAdjust="spacingAndGlyphs">1.0</text>
<rect x="61" y="476.8" width="37.1" height="67.8" fill="#a0052c"/>
<rect x="61" y="516.1" width="37.1" height="1.9" fill="#fff6ec"/>
<rect x="107" y="490.3" width="36.8" height="80.5" fill="#e08d1c"/>
<rect x="107" y="530" width="36.8" height="1.9" fill="#fff6ec"/>
<rect x="152.2" y="516.8" width="37.3" height="54.0" fill="#6aab42"/>
<rect x="152.2" y="542.8" width="37.3" height="1.9" fill="#fff6ec"/>
<rect x="197.5" y="500" width="37.3" height="44.5" fill="#2c4a80"/>
<rect x="197.5" y="530" width="37.3" height="1.9" fill="#fff6ec"/>
<path d="M80.8,466.2V461.1H215.4V466.2" fill="none" stroke="#222" stroke-width="1.1"/>
<text x="147.8" y="455.9" font-size="8.1" text-anchor="middle" fill="#111" textLength="33.4" lengthAdjust="spacingAndGlyphs">p &lt; 0.001</text>
<path d="M80,607.6V611.2" stroke="#1a1a1a" stroke-width="1.2"/>
<text x="80" y="621.8" font-size="8.8" text-anchor="middle" fill="#111" textLength="13" lengthAdjust="spacingAndGlyphs">141</text>
<path d="M125,607.6V611.2" stroke="#1a1a1a" stroke-width="1.2"/>
<text x="125" y="621.8" font-size="8.8" text-anchor="middle" fill="#111" textLength="13" lengthAdjust="spacingAndGlyphs">122</text>
<path d="M170.6,607.6V611.2" stroke="#1a1a1a" stroke-width="1.2"/>
<text x="170.6" y="621.8" font-size="8.8" text-anchor="middle" fill="#111" textLength="13" lengthAdjust="spacingAndGlyphs">111</text>
<path d="M216.7,607.6V611.2" stroke="#1a1a1a" stroke-width="1.2"/>
<text x="216.7" y="621.8" font-size="8.8" text-anchor="middle" fill="#111" textLength="13" lengthAdjust="spacingAndGlyphs">103</text>
<text x="156.9" y="634.6" font-size="10.4" text-anchor="middle" fill="#111" textLength="87.5" lengthAdjust="spacingAndGlyphs">Final sodium (mEq/L)</text>
<text transform="translate(33.6,525.8) rotate(-90)" x="0" y="0" font-size="10.4" text-anchor="middle" fill="#111" textLength="90.5" lengthAdjust="spacingAndGlyphs">Transit time (seconds)</text>
<text x="257.3" y="428.2" font-size="12" text-anchor="start" font-weight="bold" fill="#111" >F</text>
<rect x="322.60" y="602.74" width="1.97" height="4.86" fill="#a0052c"/>
<rect x="324.56" y="605.58" width="1.97" height="2.02" fill="#e5921c"/>
<rect x="326.53" y="605.98" width="1.97" height="1.62" fill="#6fae45"/>
<rect x="328.50" y="603.55" width="1.97" height="4.05" fill="#2c4a80"/>
<rect x="330.46" y="576.01" width="1.97" height="31.59" fill="#a0052c"/>
<rect x="332.43" y="561.02" width="1.97" height="46.57" fill="#e5921c"/>
<rect x="334.39" y="541.59" width="1.97" height="66.02" fill="#6fae45"/>
<rect x="336.36" y="581.27" width="1.97" height="26.32" fill="#2c4a80"/>
<rect x="338.32" y="500.28" width="1.97" height="107.32" fill="#a0052c"/>
<rect x="340.29" y="503.52" width="1.97" height="104.08" fill="#e5921c"/>
<rect x="342.25" y="478.41" width="1.97" height="129.19" fill="#6fae45"/>
<rect x="344.22" y="521.74" width="1.97" height="85.86" fill="#2c4a80"/>
<rect x="346.18" y="544.83" width="1.97" height="62.77" fill="#a0052c"/>
<rect x="348.14" y="554.55" width="1.97" height="53.05" fill="#e5921c"/>
<rect x="350.11" y="528.62" width="1.97" height="78.97" fill="#6fae45"/>
<rect x="352.07" y="514.86" width="1.97" height="92.74" fill="#2c4a80"/>
<rect x="354.04" y="553.33" width="1.97" height="54.27" fill="#a0052c"/>
<rect x="356.00" y="564.26" width="1.97" height="43.33" fill="#e5921c"/>
<rect x="357.97" y="576.01" width="1.97" height="31.59" fill="#6fae45"/>
<rect x="359.94" y="554.55" width="1.97" height="53.05" fill="#2c4a80"/>
<rect x="361.90" y="559.81" width="1.97" height="47.79" fill="#a0052c"/>
<rect x="363.87" y="576.01" width="1.97" height="31.59" fill="#e5921c"/>
<rect x="365.83" y="581.27" width="1.97" height="26.32" fill="#6fae45"/>
<rect x="367.80" y="577.23" width="1.97" height="30.38" fill="#2c4a80"/>
<rect x="369.76" y="591.81" width="1.97" height="15.79" fill="#a0052c"/>
<rect x="371.73" y="588.97" width="1.97" height="18.63" fill="#e5921c"/>
<rect x="373.69" y="598.28" width="1.97" height="9.31" fill="#6fae45"/>
<rect x="375.66" y="594.24" width="1.97" height="13.36" fill="#2c4a80"/>
<rect x="377.62" y="592.21" width="1.97" height="15.39" fill="#a0052c"/>
<rect x="379.58" y="587.75" width="1.97" height="19.84" fill="#e5921c"/>
<rect x="381.55" y="595.05" width="1.97" height="12.55" fill="#6fae45"/>
<rect x="383.51" y="598.69" width="1.97" height="8.91" fill="#2c4a80"/>
<rect x="385.48" y="602.34" width="1.97" height="5.26" fill="#a0052c"/>
<rect x="387.44" y="595.45" width="1.97" height="12.15" fill="#e5921c"/>
<rect x="389.41" y="599.90" width="1.97" height="7.69" fill="#6fae45"/>
<rect x="391.38" y="601.12" width="1.97" height="6.48" fill="#2c4a80"/>
<rect x="393.34" y="604.36" width="1.97" height="3.24" fill="#a0052c"/>
<rect x="395.31" y="599.50" width="1.97" height="8.10" fill="#e5921c"/>
<rect x="397.27" y="601.12" width="1.97" height="6.48" fill="#6fae45"/>
<rect x="399.24" y="602.34" width="1.97" height="5.26" fill="#2c4a80"/>
<rect x="401.20" y="605.17" width="1.97" height="2.43" fill="#a0052c"/>
<rect x="403.17" y="599.90" width="1.97" height="7.69" fill="#e5921c"/>
<rect x="405.13" y="602.74" width="1.97" height="4.86" fill="#6fae45"/>
<rect x="407.10" y="601.93" width="1.97" height="5.67" fill="#2c4a80"/>
<rect x="409.06" y="606.38" width="1.97" height="1.21" fill="#a0052c"/>
<rect x="411.03" y="605.17" width="1.97" height="2.43" fill="#e5921c"/>
<rect x="412.99" y="605.98" width="1.97" height="1.62" fill="#6fae45"/>
<rect x="414.96" y="604.36" width="1.97" height="3.24" fill="#2c4a80"/>
<rect x="416.92" y="606.38" width="1.97" height="1.21" fill="#a0052c"/>
<rect x="418.88" y="601.12" width="1.97" height="6.48" fill="#e5921c"/>
<rect x="420.85" y="602.74" width="1.97" height="4.86" fill="#6fae45"/>
<rect x="422.81" y="605.98" width="1.97" height="1.62" fill="#2c4a80"/>
<rect x="424.78" y="606.79" width="1.97" height="0.81" fill="#a0052c"/>
<rect x="426.75" y="606.38" width="1.97" height="1.21" fill="#e5921c"/>
<rect x="428.71" y="606.79" width="1.97" height="0.81" fill="#6fae45"/>
<rect x="430.68" y="606.38" width="1.97" height="1.21" fill="#2c4a80"/>
<rect x="432.64" y="605.58" width="1.97" height="2.02" fill="#a0052c"/>
<rect x="434.61" y="606.79" width="1.97" height="0.81" fill="#e5921c"/>
<rect x="436.57" y="606.38" width="1.97" height="1.21" fill="#6fae45"/>
<rect x="438.54" y="606.79" width="1.97" height="0.81" fill="#2c4a80"/>
<rect x="440.50" y="606.38" width="1.97" height="1.21" fill="#a0052c"/>
<rect x="442.46" y="605.17" width="1.97" height="2.43" fill="#e5921c"/>
<rect x="444.43" y="605.98" width="1.97" height="1.62" fill="#6fae45"/>
<rect x="446.39" y="605.98" width="1.97" height="1.62" fill="#2c4a80"/>
<rect x="448.36" y="607.20" width="1.97" height="0.41" fill="#a0052c"/>
<rect x="450.32" y="606.79" width="1.97" height="0.81" fill="#e5921c"/>
<rect x="452.29" y="607.20" width="1.97" height="0.41" fill="#6fae45"/>
<rect x="454.25" y="607.20" width="1.97" height="0.41" fill="#2c4a80"/>
<rect x="456.22" y="607.20" width="1.97" height="0.41" fill="#a0052c"/>
<rect x="458.19" y="607.20" width="1.97" height="0.41" fill="#e5921c"/>
<rect x="460.15" y="607.20" width="1.97" height="0.41" fill="#6fae45"/>
<rect x="462.12" y="607.20" width="1.97" height="0.41" fill="#2c4a80"/>
<rect x="480.4" y="555.76" width="3.1" height="51.84" fill="#a0052c"/>
<rect x="483.5" y="562.64" width="3.0" height="44.95" fill="#e5921c"/>
<rect x="486.5" y="568.32" width="3.3" height="39.28" fill="#6fae45"/>
<rect x="489.8" y="543.21" width="3.4" height="64.39" fill="#2c4a80"/>
<path d="M305,443.5V607.5H465.5" fill="none" stroke="#1a1a1a" stroke-width="1.4"/>
<path d="M468.5,607.5H512.5" fill="none" stroke="#1a1a1a" stroke-width="1.4"/>
<path d="M464.2,611L467.6,604.2M467.8,611L471.2,604.2" fill="none" stroke="#1a1a1a" stroke-width="1.5"/>
<path d="M468.6,607.5V514H509V607.5" fill="none" stroke="#1a1a1a" stroke-width="1.4"/>
<path d="M301.4,445.6H305" stroke="#1a1a1a" stroke-width="1.2"/>
<text x="298.8" y="448.70000000000005" font-size="8.6" text-anchor="end" fill="#111">40</text>
<path d="M301.4,486.1H305" stroke="#1a1a1a" stroke-width="1.2"/>
<text x="298.8" y="489.20000000000005" font-size="8.6" text-anchor="end" fill="#111">30</text>
<path d="M301.4,526.6H305" stroke="#1a1a1a" stroke-width="1.2"/>
<text x="298.8" y="529.7" font-size="8.6" text-anchor="end" fill="#111">20</text>
<path d="M301.4,567.1H305" stroke="#1a1a1a" stroke-width="1.2"/>
<text x="298.8" y="570.2" font-size="8.6" text-anchor="end" fill="#111">10</text>
<path d="M301.4,607.6H305" stroke="#1a1a1a" stroke-width="1.2"/>
<text x="298.8" y="610.7" font-size="8.6" text-anchor="end" fill="#111">0</text>
<path d="M333,607.5V611" stroke="#1a1a1a" stroke-width="1.2"/>
<text x="333" y="621.2" font-size="8.6" text-anchor="middle" fill="#111">1</text>
<path d="M364.3,607.5V611" stroke="#1a1a1a" stroke-width="1.2"/>
<text x="364.3" y="621.2" font-size="8.6" text-anchor="middle" fill="#111">2</text>
<path d="M395.6,607.5V611" stroke="#1a1a1a" stroke-width="1.2"/>
<text x="395.6" y="621.2" font-size="8.6" text-anchor="middle" fill="#111">3</text>
<path d="M427,607.5V611" stroke="#1a1a1a" stroke-width="1.2"/>
<text x="427" y="621.2" font-size="8.6" text-anchor="middle" fill="#111">4</text>
<path d="M458.5,607.5V611" stroke="#1a1a1a" stroke-width="1.2"/>
<text x="458.5" y="621.2" font-size="8.6" text-anchor="middle" fill="#111">5</text>
<path d="M484.8,607.5V611" stroke="#1a1a1a" stroke-width="1.2"/>
<text x="484.8" y="621.2" font-size="8.6" text-anchor="middle" fill="#111">&gt;5</text>
<text x="407.4" y="634.6" font-size="10" text-anchor="middle" fill="#111" textLength="88.6" lengthAdjust="spacingAndGlyphs">Transit time (seconds)</text>
<text transform="translate(283.3,525.6) rotate(-90)" x="0" y="0" font-size="9.2" text-anchor="middle" fill="#111" textLength="91" lengthAdjust="spacingAndGlyphs">Relative frequency (%)</text>
<text x="415" y="510.2" font-size="8" text-anchor="middle" fill="#111" textLength="88.5" lengthAdjust="spacingAndGlyphs">N = 6,365 sickle red cells</text>
<text x="476.5" y="433.7" font-size="8" text-anchor="middle" fill="#111" textLength="44.8" lengthAdjust="spacingAndGlyphs">Final sodium</text>
<rect x="443.8" y="438.70" width="23.9" height="11.4" fill="#a0052c"/>
<text x="471.3" y="447.30" font-size="8" fill="#111" textLength="38.4" lengthAdjust="spacingAndGlyphs">141 mEq/L</text>
<rect x="443.8" y="453.55" width="23.9" height="11.4" fill="#e5921c"/>
<text x="471.3" y="462.15" font-size="8" fill="#111" textLength="38.4" lengthAdjust="spacingAndGlyphs">122 mEq/L</text>
<rect x="443.8" y="468.40" width="23.9" height="11.4" fill="#6fae45"/>
<text x="471.3" y="477.00" font-size="8" fill="#111" textLength="38.4" lengthAdjust="spacingAndGlyphs">111 mEq/L</text>
<rect x="443.8" y="483.25" width="23.9" height="11.4" fill="#2c4a80"/>
<text x="471.3" y="491.85" font-size="8" fill="#111" textLength="38.4" lengthAdjust="spacingAndGlyphs">103 mEq/L</text>
<rect x="0.6" y="0.6" width="518.8" height="643.6" fill="none" stroke="#000" stroke-width="1.4"/>
</svg>
</body></html>
